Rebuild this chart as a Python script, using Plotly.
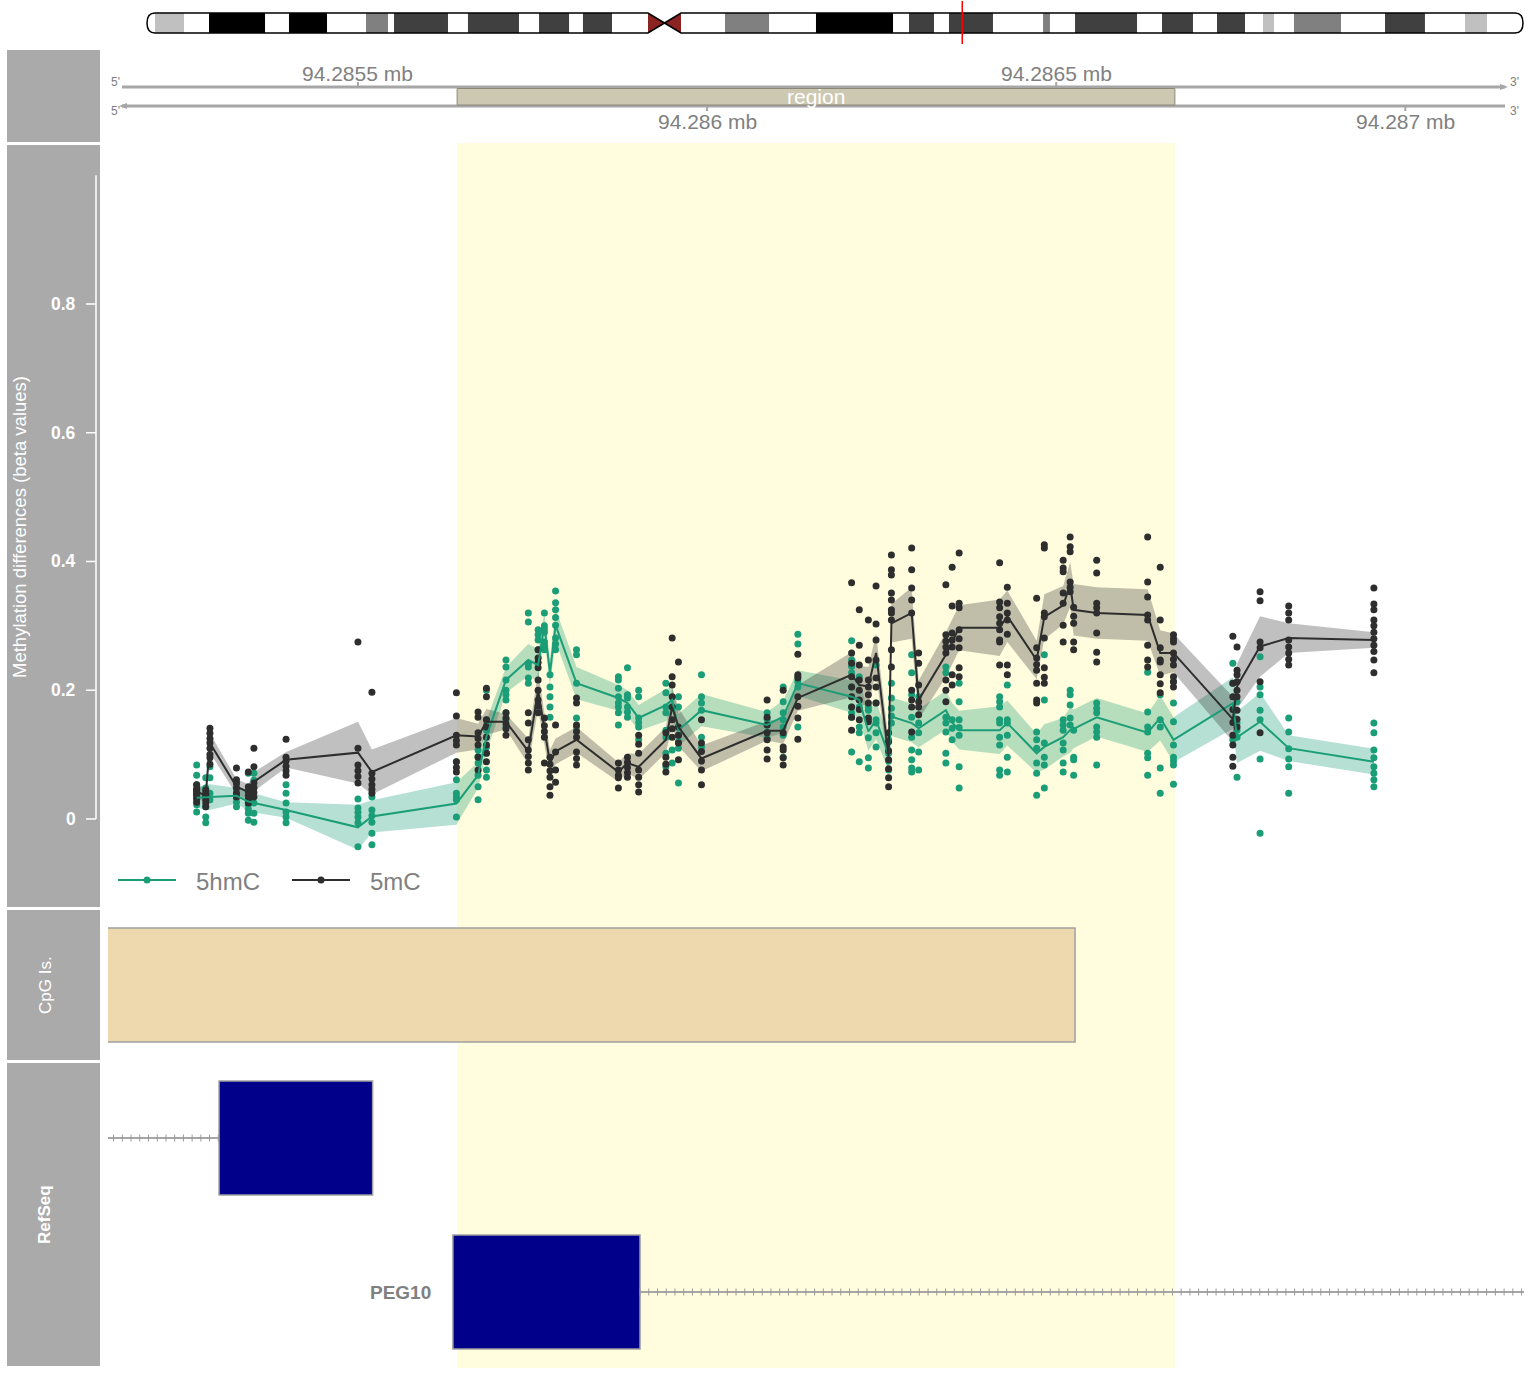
import numpy as np
import plotly.graph_objects as go

W, H = 1532, 1374

# ---------------- data ----------------
chrom_length_mb = 159.138663
band_start_mb = [0.93, 7.17, 16.42, 25.33, 28.57, 37.12, 45.34, 50.42, 66.85, 77.37,
                 88.13, 92.75, 103.63, 107.33, 117.39, 123.75, 129.07, 132.65, 143.18, 152.43]
band_end_mb = [4.28, 13.65, 20.82, 27.87, 34.81, 43.02, 48.81, 53.78, 71.94, 86.28,
               91.02, 97.84, 104.43, 114.50, 120.97, 126.99, 130.34, 138.09, 147.80, 154.97]
band_stain = ["gpos25", "gpos100", "gpos100", "gpos50", "gpos75", "gpos75", "gpos75", "gpos75",
              "gpos50", "gpos100", "gpos75", "gpos75", "gpos50", "gpos75", "gpos75", "gpos75",
              "gpos25", "gpos50", "gpos75", "gpos25"]
centromere_mb = [57.94, 59.85, 61.76]

view_start, view_end = 94285142, 94287170
top_ticks = [94285500, 94286500]
bottom_ticks = [94286000, 94287000]
region = [94285642, 94286670]
cpg_island = [94285000, 94286527]

exon_start = [94285301, 94285636]
exon_end = [94285521, 94285904]
intron_start = [94285000, 94285904]
intron_end = [94285301, 94287300]
gene_label = ["", "PEG10"]

groups = ["5hmC", "5mC"]

cpg_pos = [94285269, 94285282, 94285288, 94285326, 94285343, 94285351, 94285397, 94285500, 94285520, 94285641,
           94285672, 94285684, 94285712, 94285744, 94285758, 94285767, 94285775, 94285783, 94285813, 94285873,
           94285886, 94285902, 94285941, 94285950, 94285959, 94285992, 94286086, 94286109, 94286130, 94286207,
           94286218, 94286231, 94286242, 94286260, 94286264, 94286293, 94286303, 94286342, 94286351, 94286361,
           94286419, 94286430, 94286472, 94286483, 94286510, 94286520, 94286525, 94286558, 94286631, 94286649,
           94286668, 94286753, 94286759, 94286792, 94286833, 94286955]

mC_mean = [0.042, 0.037, 0.118, 0.050, 0.042, 0.058, 0.092, 0.103, 0.073, 0.130,
           0.128, 0.151, 0.151, 0.105, 0.200, 0.138, 0.087, 0.105, 0.123, 0.073,
           0.087, 0.081, 0.123, 0.174, 0.143, 0.094, 0.137, 0.137, 0.188, 0.224,
           0.208, 0.206, 0.258, 0.097, 0.304, 0.320, 0.185, 0.255, 0.275, 0.297,
           0.297, 0.315, 0.247, 0.314, 0.332, 0.364, 0.325, 0.320, 0.317, 0.258,
           0.258, 0.155, 0.206, 0.268, 0.281, 0.278]
mC_ci = [0.010, 0.012, 0.015, 0.012, 0.012, 0.015, 0.012, 0.048, 0.035, 0.027,
         0.020, 0.020, 0.012, 0.020, 0.030, 0.025, 0.020, 0.020, 0.020, 0.015,
         0.015, 0.020, 0.020, 0.030, 0.030, 0.020, 0.015, 0.020, 0.020, 0.035,
         0.030, 0.030, 0.030, 0.025, 0.030, 0.040, 0.030, 0.035, 0.035, 0.035,
         0.044, 0.040, 0.030, 0.035, 0.030, 0.035, 0.040, 0.040, 0.040, 0.035,
         0.030, 0.035, 0.035, 0.047, 0.023, 0.012]
hmC_mean = [0.033, 0.034, 0.034, 0.036, 0.027, 0.025, 0.014, -0.013, 0.004, 0.024,
            0.068, 0.128, 0.216, 0.247, 0.239, 0.301, 0.227, 0.301, 0.211, 0.188,
            0.180, 0.157, 0.177, 0.185, 0.138, 0.169, 0.146, 0.159, 0.211, 0.190,
            0.185, 0.136, 0.154, 0.100, 0.159, 0.149, 0.141, 0.169, 0.150, 0.138,
            0.138, 0.149, 0.102, 0.112, 0.127, 0.138, 0.140, 0.158, 0.134, 0.157,
            0.123, 0.180, 0.127, 0.151, 0.110, 0.089]
hmC_ci = [0.015, 0.020, 0.020, 0.012, 0.015, 0.015, 0.012, 0.035, 0.025, 0.033,
          0.020, 0.025, 0.020, 0.025, 0.025, 0.020, 0.020, 0.025, 0.025, 0.020,
          0.020, 0.020, 0.025, 0.020, 0.025, 0.025, 0.020, 0.025, 0.020, 0.025,
          0.030, 0.030, 0.030, 0.025, 0.030, 0.030, 0.030, 0.030, 0.030, 0.030,
          0.037, 0.035, 0.030, 0.035, 0.030, 0.035, 0.030, 0.030, 0.030, 0.035,
          0.035, 0.040, 0.040, 0.045, 0.020, 0.020]

mC_points = [
    [0.053, 0.047, 0.042, 0.037, 0.032, 0.026, 0.045, 0.040],
    [0.045, 0.037, 0.030, 0.025, 0.019, 0.040],
    [0.141, 0.133, 0.125, 0.118, 0.110, 0.100, 0.095, 0.085],
    [0.079, 0.061, 0.055, 0.048, 0.040, 0.034],
    [0.073, 0.050, 0.043, 0.037, 0.031, 0.025],
    [0.110, 0.081, 0.056, 0.048, 0.041, 0.034],
    [0.124, 0.096, 0.090, 0.082, 0.075, 0.068],
    [0.275, 0.110, 0.084, 0.075, 0.066, 0.056],
    [0.197, 0.071, 0.062, 0.053, 0.046, 0.040],
    [0.196, 0.160, 0.130, 0.122, 0.115, 0.089, 0.080, 0.073],
    [0.166, 0.158, 0.134, 0.125, 0.115, 0.096, 0.076],
    [0.203, 0.190, 0.154, 0.143, 0.127, 0.115, 0.102, 0.089],
    [0.165, 0.157, 0.148, 0.140, 0.130],
    [0.165, 0.149, 0.123, 0.107, 0.097, 0.087, 0.076],
    [0.263, 0.250, 0.243, 0.235, 0.216, 0.200, 0.185, 0.175, 0.165],
    [0.157, 0.145, 0.136, 0.127, 0.087],
    [0.096, 0.085, 0.075, 0.065, 0.050, 0.037],
    [0.146, 0.104, 0.076, 0.057],
    [0.188, 0.180, 0.146, 0.136, 0.127, 0.104, 0.094, 0.084],
    [0.087, 0.076, 0.068, 0.064, 0.048],
    [0.096, 0.088, 0.080, 0.072, 0.065],
    [0.130, 0.116, 0.102, 0.076, 0.065, 0.053, 0.042],
    [0.134, 0.096, 0.085, 0.073],
    [0.281, 0.221, 0.208, 0.190, 0.174, 0.154, 0.140, 0.127],
    [0.244, 0.143, 0.130, 0.118, 0.092],
    [0.154, 0.118, 0.105, 0.090, 0.076, 0.053],
    [0.185, 0.158, 0.146, 0.134, 0.123, 0.107, 0.093],
    [0.200, 0.134, 0.112, 0.107, 0.095, 0.084],
    [0.256, 0.224, 0.219, 0.190, 0.175, 0.157, 0.124],
    [0.367, 0.258, 0.242, 0.221, 0.205, 0.190, 0.174, 0.158, 0.138],
    [0.325, 0.270, 0.239, 0.216, 0.200, 0.185, 0.170, 0.154],
    [0.309, 0.247, 0.216, 0.205, 0.193, 0.180, 0.157, 0.151],
    [0.362, 0.303, 0.278, 0.247, 0.219, 0.205, 0.180],
    [0.134, 0.120, 0.106, 0.092, 0.078, 0.064, 0.050],
    [0.410, 0.387, 0.379, 0.351, 0.340, 0.325, 0.320, 0.309, 0.263, 0.236],
    [0.421, 0.387, 0.359, 0.340, 0.320, 0.200, 0.185, 0.174, 0.135],
    [0.258, 0.242, 0.208, 0.182, 0.174, 0.162],
    [0.364, 0.286, 0.276, 0.267, 0.258, 0.216, 0.200, 0.182],
    [0.391, 0.331, 0.289, 0.278, 0.267, 0.224, 0.208],
    [0.413, 0.335, 0.328, 0.294, 0.280, 0.266, 0.235, 0.221],
    [0.398, 0.337, 0.328, 0.314, 0.304, 0.294, 0.278, 0.275, 0.239],
    [0.360, 0.335, 0.320, 0.309, 0.287, 0.239, 0.224],
    [0.343, 0.266, 0.250, 0.240, 0.231, 0.211, 0.185, 0.180],
    [0.426, 0.421, 0.320, 0.314, 0.281, 0.235, 0.220, 0.211],
    [0.402, 0.390, 0.384, 0.351, 0.335, 0.301, 0.275],
    [0.438, 0.423, 0.415, 0.368, 0.360, 0.353],
    [0.329, 0.315, 0.304, 0.275, 0.263],
    [0.402, 0.382, 0.335, 0.328, 0.320, 0.289, 0.259, 0.244],
    [0.438, 0.368, 0.345, 0.317, 0.309, 0.270, 0.247, 0.236],
    [0.391, 0.309, 0.266, 0.247, 0.244, 0.224, 0.210, 0.196],
    [0.286, 0.280, 0.275, 0.258, 0.248, 0.239, 0.221, 0.213, 0.205],
    [0.284, 0.211, 0.190, 0.170, 0.150, 0.130, 0.115, 0.096, 0.082],
    [0.267, 0.231, 0.224, 0.213, 0.200, 0.190, 0.169, 0.155, 0.143],
    [0.353, 0.339, 0.275, 0.266, 0.213, 0.134],
    [0.331, 0.320, 0.309, 0.278, 0.267, 0.258, 0.248, 0.239],
    [0.359, 0.334, 0.325, 0.309, 0.300, 0.290, 0.280, 0.270, 0.260, 0.247, 0.227],
]
hmC_points = [
    [0.084, 0.068, 0.053, 0.045, 0.037, 0.030, 0.022, 0.011],
    [0.048, 0.034, 0.019, 0.003, -0.006, 0.064],
    [0.081, 0.064, 0.040, 0.030],
    [0.056, 0.047, 0.040, 0.033, 0.026, 0.019],
    [0.071, 0.030, 0.022, 0.015, 0.009, -0.002],
    [0.071, 0.060, 0.050, 0.025, 0.009, -0.005],
    [0.053, 0.040, 0.025, 0.011, 0.003, -0.006],
    [0.031, 0.017, 0.010, 0.003, -0.006, -0.043],
    [0.034, 0.014, 0.005, -0.005, -0.022, -0.040],
    [0.089, 0.061, 0.040, 0.034, 0.030, 0.003],
    [0.107, 0.097, 0.087, 0.068, 0.050, 0.030],
    [0.200, 0.154, 0.146, 0.138, 0.112, 0.102, 0.076, 0.065],
    [0.247, 0.236, 0.216, 0.200, 0.193, 0.185, 0.165, 0.155, 0.143],
    [0.320, 0.306, 0.242, 0.236, 0.219, 0.211],
    [0.294, 0.286, 0.278, 0.263],
    [0.320, 0.300, 0.295, 0.290, 0.275, 0.268, 0.263],
    [0.224, 0.205, 0.190, 0.174, 0.158],
    [0.354, 0.336, 0.325, 0.313, 0.301, 0.281, 0.272, 0.263],
    [0.263, 0.255, 0.211, 0.157, 0.143],
    [0.221, 0.216, 0.203, 0.190, 0.180, 0.174, 0.165, 0.146],
    [0.235, 0.193, 0.188, 0.174, 0.166, 0.158],
    [0.200, 0.190, 0.157, 0.150, 0.143, 0.123],
    [0.211, 0.196, 0.174, 0.165, 0.138, 0.127, 0.102, 0.081],
    [0.107, 0.087],
    [0.190, 0.174, 0.130, 0.120, 0.110, 0.056],
    [0.224, 0.190, 0.180, 0.169, 0.127, 0.112],
    [0.165, 0.155, 0.146, 0.135, 0.125],
    [0.205, 0.182, 0.165, 0.154, 0.143, 0.130, 0.096],
    [0.287, 0.272, 0.221, 0.213, 0.205, 0.143],
    [0.277, 0.247, 0.237, 0.227, 0.205, 0.190, 0.174, 0.165, 0.158, 0.104],
    [0.221, 0.174, 0.143, 0.134, 0.089],
    [0.174, 0.169, 0.154, 0.126, 0.095, 0.079],
    [0.239, 0.180, 0.154, 0.149, 0.134, 0.112],
    [0.123, 0.102, 0.090, 0.076],
    [0.211, 0.188, 0.172, 0.160, 0.149],
    [0.255, 0.227, 0.193, 0.158, 0.127, 0.107, 0.092, 0.079, 0.073],
    [0.190, 0.149, 0.134, 0.104, 0.076],
    [0.236, 0.227, 0.158, 0.149, 0.135, 0.102, 0.087],
    [0.154, 0.141, 0.123],
    [0.211, 0.182, 0.154, 0.142, 0.130, 0.081, 0.048],
    [0.190, 0.182, 0.174, 0.154, 0.149, 0.127, 0.115, 0.076, 0.068],
    [0.208, 0.154, 0.149, 0.130, 0.096, 0.073],
    [0.135, 0.123, 0.110, 0.087, 0.071, 0.037],
    [0.255, 0.185, 0.118, 0.096, 0.084, 0.048],
    [0.154, 0.146, 0.138, 0.118, 0.107, 0.087, 0.073],
    [0.200, 0.193, 0.177, 0.157, 0.146],
    [0.138, 0.096, 0.092, 0.068],
    [0.180, 0.172, 0.165, 0.143, 0.135, 0.127, 0.084],
    [0.228, 0.166, 0.143, 0.135, 0.102, 0.095, 0.068],
    [0.193, 0.154, 0.143, 0.079, 0.040],
    [0.213, 0.180, 0.151, 0.115, 0.096, 0.090, 0.084, 0.054],
    [0.242, 0.211, 0.123],
    [0.182, 0.149, 0.138, 0.127, 0.065],
    [0.252, 0.205, 0.193, 0.169, 0.154, 0.093, -0.022],
    [0.157, 0.135, 0.109, 0.093, 0.081, 0.040],
    [0.149, 0.134, 0.107, 0.095, 0.081, 0.071, 0.061, 0.050],
]

y_ticks = [0, 0.2, 0.4, 0.6, 0.8]

# ---------------- style ----------------
FONT = "Liberation Sans, Arial, Helvetica, sans-serif"
NARROW = "Liberation Sans Narrow, Liberation Sans, Arial, sans-serif"
TEAL = "#1B9E77"
DARK = "#2E2E2E"
TEAL_FILL = "rgba(27,158,119,0.32)"
DARK_FILL = "rgba(51,51,51,0.31)"
PANEL = "#AAAAAA"
AXGRAY = "#A6A6A6"
TXTGRAY = "#808080"
stain_color = {"gpos25": "#C0C0C0", "gpos50": "#808080", "gpos75": "#404040", "gpos100": "#000000"}


def px(x):
    return x / W


def py(y):
    return 1 - y / H


def note(x, y, text, size, color, family=FONT, xanchor="center", xref="paper", yref="paper", angle=0):
    return dict(x=x, y=y, xref=xref, yref=yref, text=text, showarrow=False, textangle=angle,
                xanchor=xanchor, yanchor="middle", font=dict(family=family, size=size, color=color))


fig = go.Figure()

# confidence bands
for mean, ci, fillc in [(hmC_mean, hmC_ci, TEAL_FILL), (mC_mean, mC_ci, DARK_FILL)]:
    hi = [m + c for m, c in zip(mean, ci)]
    lo = [m - c for m, c in zip(mean, ci)]
    fig.add_trace(go.Scatter(x=cpg_pos + cpg_pos[::-1], y=hi + lo[::-1], fill="toself",
                             fillcolor=fillc, line=dict(width=0), mode="lines",
                             hoverinfo="skip", showlegend=False))

# sample points
for pts, col in [(hmC_points, TEAL), (mC_points, DARK)]:
    xs, ys = [], []
    for p, vals in zip(cpg_pos, pts):
        xs += [p] * len(vals)
        ys += vals
    fig.add_trace(go.Scatter(x=xs, y=ys, mode="markers",
                             marker=dict(size=7, color=col, line=dict(width=0)),
                             showlegend=False))

# average lines
for mean, col in [(hmC_mean, TEAL), (mC_mean, DARK)]:
    fig.add_trace(go.Scatter(x=cpg_pos, y=mean, mode="lines",
                             line=dict(color=col, width=2), showlegend=False))

# intron lines with strand ticks (RefSeq track, pixel-y axis y3)
for i in range(len(exon_start)):
    y_row = 1138 if i == 0 else 1292
    fig.add_trace(go.Scatter(x=[intron_start[i], intron_end[i]], y=[y_row, y_row], mode="lines",
                             line=dict(color=AXGRAY, width=2), xaxis="x", yaxis="y3",
                             showlegend=False, hoverinfo="skip"))
    tx = np.arange(intron_start[i], intron_end[i], 12.5)
    fig.add_trace(go.Scatter(x=tx, y=[y_row] * len(tx), mode="markers",
                             marker=dict(symbol="line-ns", size=5, line=dict(color="#999999", width=1)),
                             xaxis="x", yaxis="y3", showlegend=False, hoverinfo="skip"))

# dummy trace for ideogram axis
fig.add_trace(go.Scatter(x=[0], y=[20], mode="markers", marker=dict(opacity=0),
                         xaxis="x2", yaxis="y2", showlegend=False, hoverinfo="skip"))

shapes = []
annos = []

# highlight
shapes.append(dict(type="rect", xref="x", yref="paper", x0=region[0], x1=region[1],
                   y0=py(1368), y1=py(143), fillcolor="#FFFDDE", line=dict(width=0), layer="below"))
# CpG island
shapes.append(dict(type="rect", xref="x", yref="paper", x0=cpg_island[0], x1=cpg_island[1],
                   y0=py(1042), y1=py(928), fillcolor="#EED8AE", line=dict(color="#A0A0A0", width=1.5),
                   layer="below"))
# exons
for i in range(len(exon_start)):
    yc = 1138 if i == 0 else 1292
    shapes.append(dict(type="rect", xref="x", yref="paper", x0=exon_start[i], x1=exon_end[i],
                       y0=py(yc + 57), y1=py(yc - 57), fillcolor="#00008B",
                       line=dict(color="#A0A0A0", width=1.5), layer="below"))
    if gene_label[i]:
        annos.append(note(px(433), py(yc), "<b>%s</b>" % gene_label[i], 19, TXTGRAY,
                          family=NARROW, xanchor="right"))

# left title panels
for (t, b) in [(50, 142), (145, 907), (910, 1060), (1063, 1366)]:
    shapes.append(dict(type="rect", xref="paper", yref="paper", x0=px(7), x1=px(100),
                       y0=py(b), y1=py(t), fillcolor=PANEL, line=dict(width=0)))
annos.append(note(px(19), py(527), "Methylation differences (beta values)", 18.5, "white",
                  family=NARROW, angle=-90))
annos.append(note(px(45), py(985), "CpG Is.", 17, "white", angle=-90))
annos.append(note(px(44), py(1215), "<b>RefSeq</b>", 17, "white", angle=-90))

# data-track y axis (white, on the panel)
shapes.append(dict(type="line", xref="paper", yref="y", x0=px(96), x1=px(96), y0=0, y1=1,
                   line=dict(color="white", width=1.5)))
for v in y_ticks:
    shapes.append(dict(type="line", xref="paper", yref="y", x0=px(86), x1=px(96), y0=v, y1=v,
                       line=dict(color="white", width=1.5)))
    annos.append(note(px(78), v, "<b>%g</b>" % v, 17.5, "white", xanchor="right", yref="y"))

# genome axis track
for yl in (87, 106):
    shapes.append(dict(type="line", xref="paper", yref="paper", x0=px(122), x1=px(1505), y0=py(yl), y1=py(yl),
                       line=dict(color=AXGRAY, width=3)))
shapes.append(dict(type="path", xref="paper", yref="paper",
                   path="M %f,%f L %f,%f L %f,%f Z" % (px(1500), py(84), px(1508), py(87), px(1500), py(90)),
                   fillcolor=AXGRAY, line=dict(width=0)))
shapes.append(dict(type="path", xref="paper", yref="paper",
                   path="M %f,%f L %f,%f L %f,%f Z" % (px(127), py(103), px(119), py(106), px(127), py(109)),
                   fillcolor=AXGRAY, line=dict(width=0)))
shapes.append(dict(type="rect", xref="x", yref="paper", x0=region[0], x1=region[1], y0=py(105), y1=py(88.5),
                   fillcolor="#CDC8B1", line=dict(color="#8B8878", width=1)))
annos.append(note((region[0] + region[1]) / 2, py(97), "region", 21, "white", xref="x"))
for t in top_ticks:
    shapes.append(dict(type="line", xref="x", yref="paper", x0=t, x1=t, y0=py(87), y1=py(82),
                       line=dict(color=AXGRAY, width=2)))
    annos.append(note(t, py(73), "%g mb" % (t / 1e6), 21, TXTGRAY, xref="x"))
for t in bottom_ticks:
    shapes.append(dict(type="line", xref="x", yref="paper", x0=t, x1=t, y0=py(106), y1=py(111),
                       line=dict(color=AXGRAY, width=2)))
    annos.append(note(t, py(121), "%g mb" % (t / 1e6), 21, TXTGRAY, xref="x"))
for (xx, yy, tt) in [(109, 82, "5'"), (109, 111, "5'"), (1508, 82, "3'"), (1508, 111, "3'")]:
    annos.append(note(px(xx), py(yy), tt, 12, TXTGRAY, xanchor="left"))

# ideogram (x2 in Mb, y2 in pixels)
top_y, bot_y, mid_y = 13, 33, 23
for s, e, st in zip(band_start_mb, band_end_mb, band_stain):
    shapes.append(dict(type="rect", xref="x2", yref="y2", x0=s, x1=e, y0=top_y, y1=bot_y,
                       fillcolor=stain_color[st], line=dict(width=0)))
c0, cm, c1 = centromere_mb
for a in (c0, c1):
    shapes.append(dict(type="path", xref="x2", yref="y2",
                       path="M %f,%f L %f,%f L %f,%f Z" % (a, top_y, cm, mid_y, a, bot_y),
                       fillcolor="#8B2323", line=dict(width=0)))
r = 0.93
L = chrom_length_mb
outline = ("M {r},{t} L {c0},{t} L {cm},{m} L {c1},{t} L {Lr},{t} Q {L},{t} {L},{m} Q {L},{b} {Lr},{b} "
           "L {c1},{b} L {cm},{m} L {c0},{b} L {r},{b} Q 0,{b} 0,{m} Q 0,{t} {r},{t} Z").format(
    r=r, t=top_y, c0=c0, cm=cm, c1=c1, Lr=L - r, L=L, m=mid_y, b=bot_y)
shapes.append(dict(type="path", xref="x2", yref="y2", path=outline, line=dict(color="black", width=1.5)))
center_mb = (view_start + view_end) / 2 / 1e6
shapes.append(dict(type="line", xref="x2", yref="y2", x0=center_mb, x1=center_mb, y0=1, y1=44,
                   line=dict(color="red", width=1.5)))

# legend
for (x0, x1, col, name) in [(118, 176, TEAL, groups[0]), (292, 350, DARK, groups[1])]:
    shapes.append(dict(type="line", xref="paper", yref="paper", x0=px(x0), x1=px(x1), y0=py(880), y1=py(880),
                       line=dict(color=col, width=2)))
    cx = (x0 + x1) / 2
    shapes.append(dict(type="circle", xref="paper", yref="paper", x0=px(cx - 3.5), x1=px(cx + 3.5),
                       y0=py(883.5), y1=py(876.5), fillcolor=col, line=dict(width=0)))
    annos.append(note(px(x1 + 18), py(881), name, 24, TXTGRAY, xanchor="left"))

scale = chrom_length_mb / 1376.0
fig.update_layout(
    width=W, height=H, margin=dict(l=0, r=0, t=0, b=0),
    paper_bgcolor="white", plot_bgcolor="rgba(0,0,0,0)", showlegend=False,
    xaxis=dict(domain=[px(108), px(1524)], range=[view_start, view_end], visible=False, anchor="y"),
    yaxis=dict(domain=[py(908), py(143)], range=[-0.1383, 1.0501], visible=False, anchor="x"),
    xaxis2=dict(domain=[px(140), px(1530)], range=[-7 * scale, chrom_length_mb + 7 * scale],
                visible=False, anchor="y2"),
    yaxis2=dict(domain=[py(45), py(0)], range=[45, 0], visible=False, anchor="x2"),
    yaxis3=dict(domain=[py(1366), py(1063)], range=[1366, 1063], visible=False, anchor="x"),
    shapes=shapes, annotations=annos,
)

fig.write_html("out.html")
